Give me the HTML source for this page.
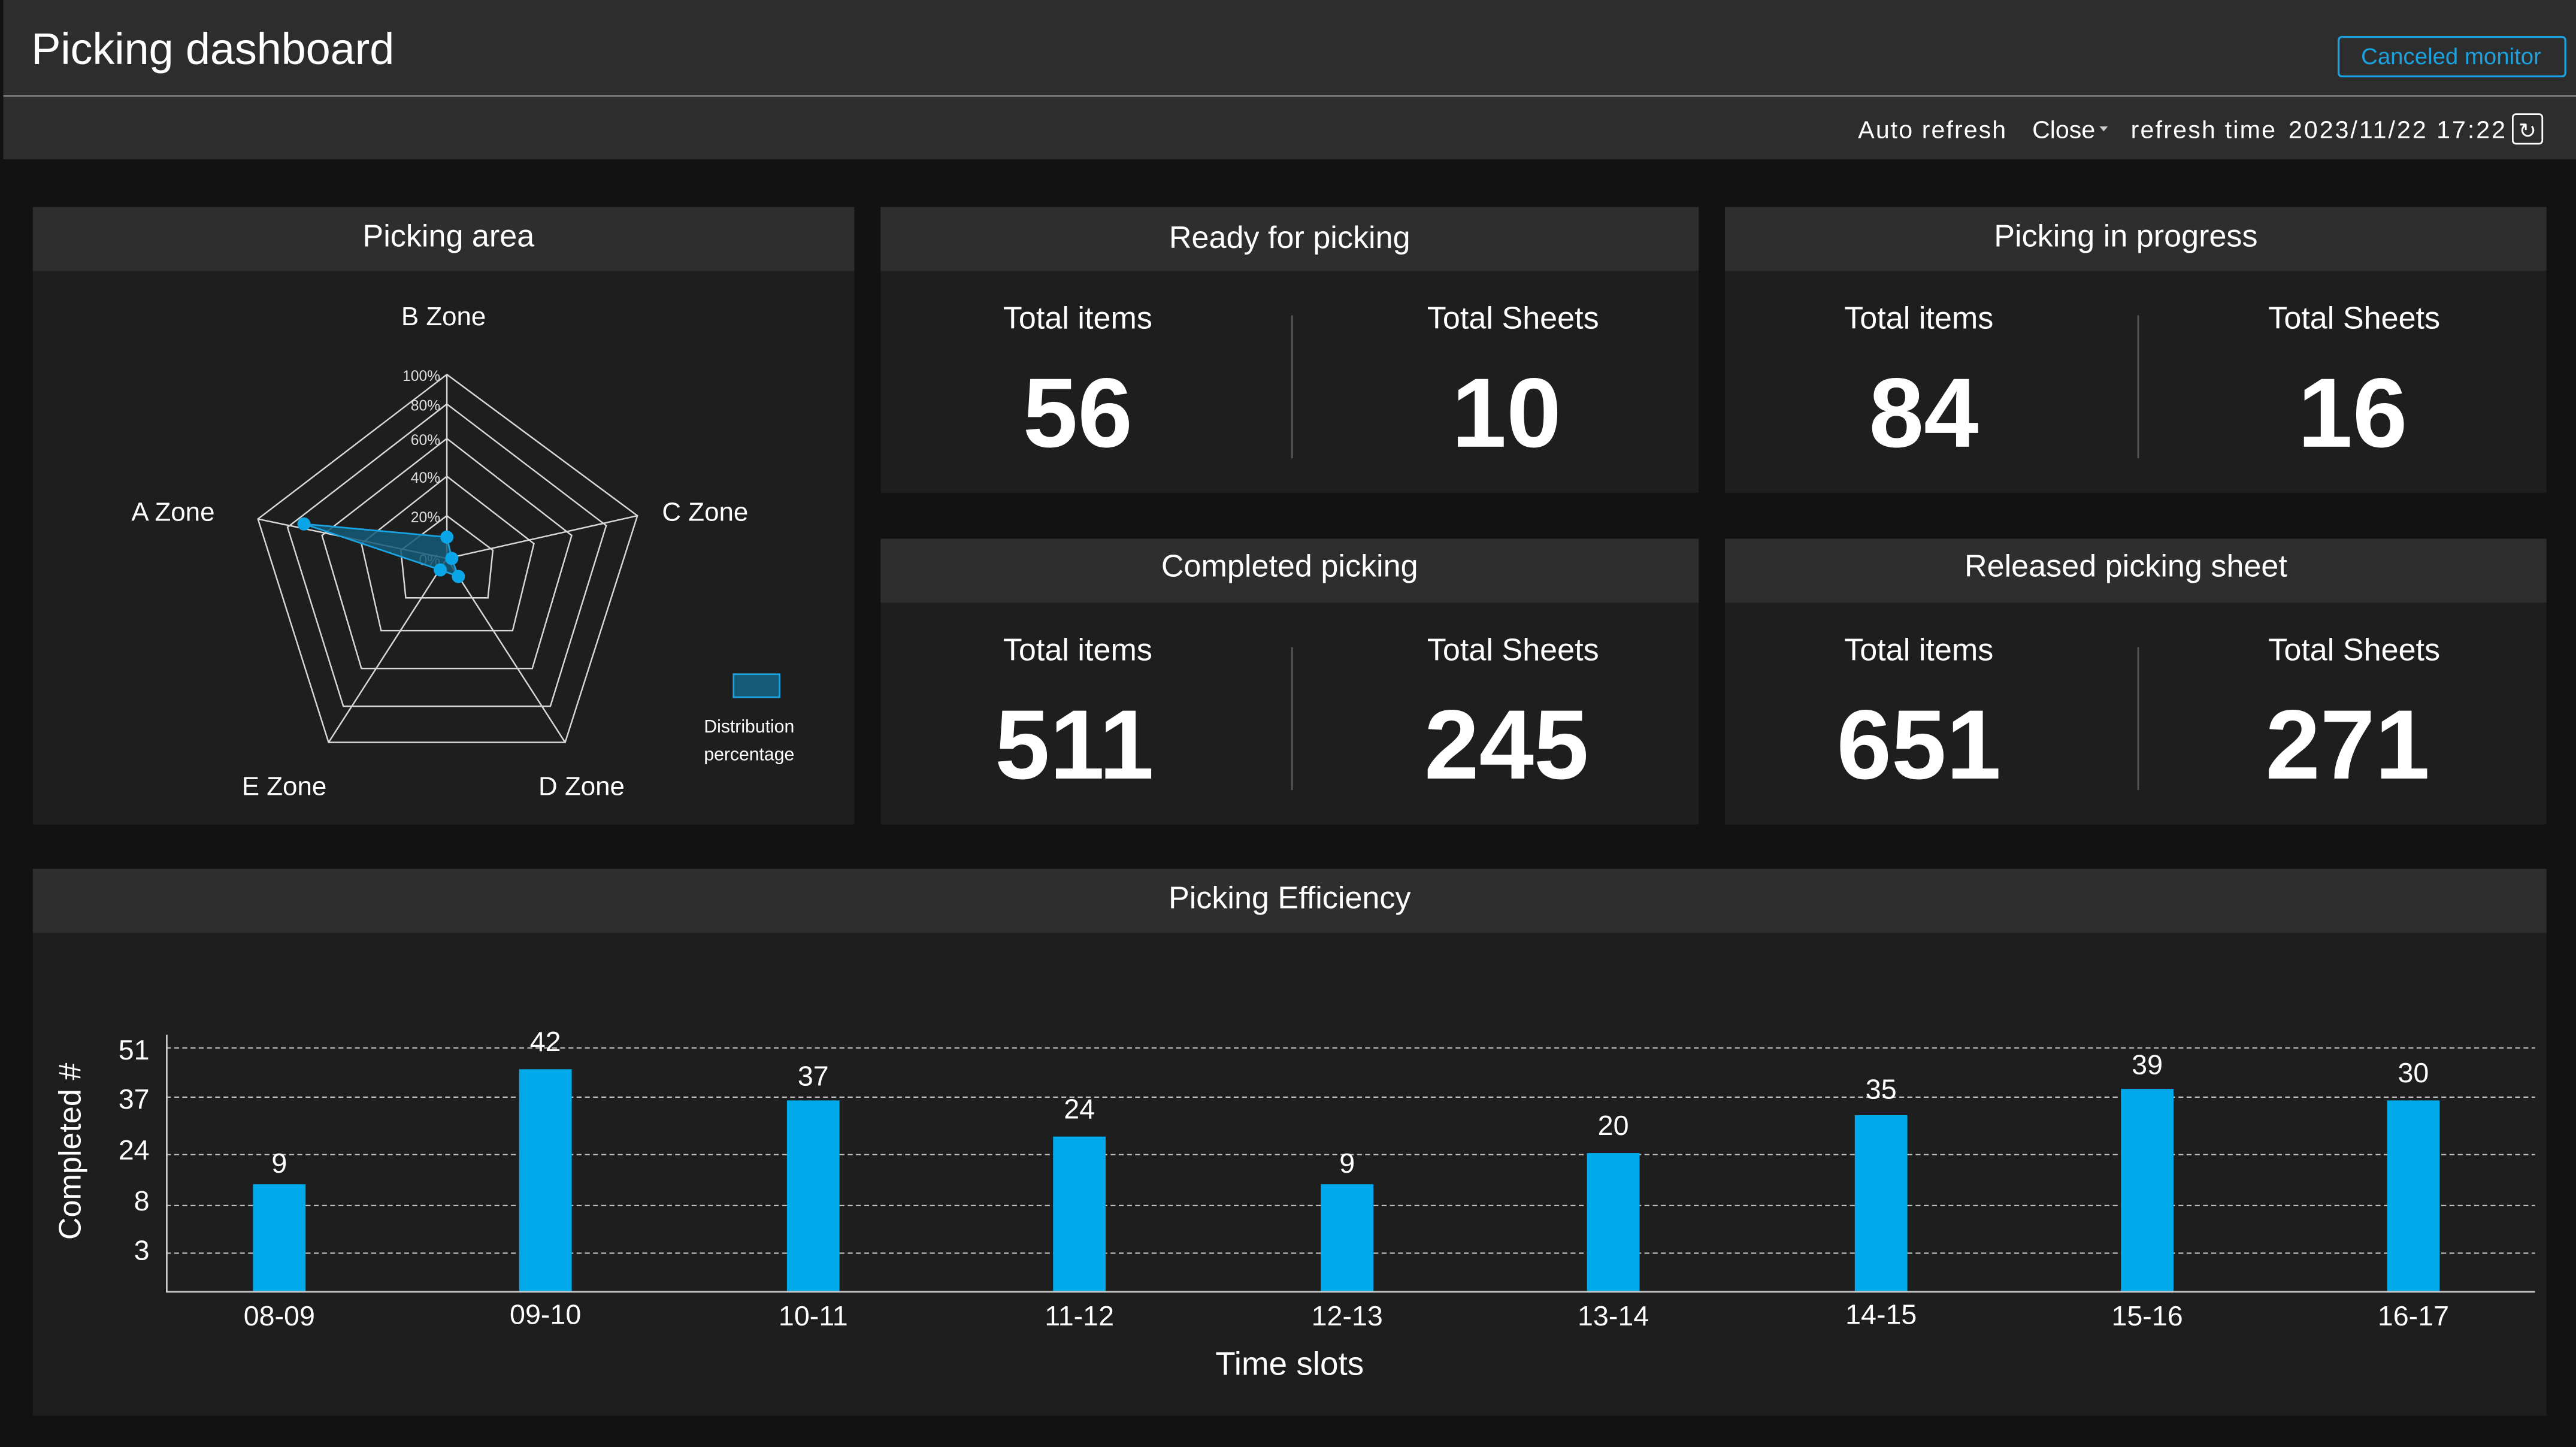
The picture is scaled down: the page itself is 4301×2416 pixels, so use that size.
<!DOCTYPE html>
<html><head><meta charset="utf-8"><style>
html,body{margin:0;padding:0;background:#121212;}
svg{display:block;}
text{font-family:"Liberation Sans",sans-serif;}
</style></head><body>
<svg width="4301" height="2416" viewBox="0 0 1568 881" preserveAspectRatio="none" xmlns="http://www.w3.org/2000/svg">
<rect x="0" y="0" width="1568" height="881" fill="#121212"/>
<rect x="2" y="0" width="1566" height="97" fill="#2d2d2d"/>
<line x1="2" y1="58.5" x2="1568" y2="58.5" stroke="#7a7a7a" stroke-width="1"/>
<text x="19" y="39" font-size="27" fill="#fff" textLength="221">Picking dashboard</text>
<rect x="1423.5" y="22.5" width="138" height="24" rx="2" fill="none" stroke="#1aa3e0" stroke-width="1.2"/>
<text x="1492" y="39" font-size="14" fill="#1aa3e0" text-anchor="middle">Canceled monitor</text>
<text x="1131" y="84" font-size="15" fill="#fff" textLength="90">Auto refresh</text>
<text x="1237" y="84" font-size="15" fill="#fff">Close</text>
<path d="M1278 77 l5 0 l-2.5 3z" fill="#ccc"/>
<text x="1297" y="84" font-size="15" fill="#fff" textLength="88">refresh time</text>
<text x="1393" y="84" font-size="15" fill="#fff" textLength="132">2023/11/22 17:22</text>
<rect x="1529.5" y="69.5" width="18" height="18" rx="2" fill="none" stroke="#fff" stroke-width="1"/>
<text x="1538.5" y="84" font-size="13" fill="#fff" text-anchor="middle">↻</text>

<g>
<rect x="20" y="126" width="500" height="376" fill="#1e1e1e"/>
<rect x="20" y="126" width="500" height="39" fill="#2e2e2e"/>
<text x="273" y="150" font-size="19" fill="#fff" text-anchor="middle">Picking area</text>

<rect x="536" y="126" width="498" height="174" fill="#1e1e1e"/>
<rect x="536" y="126" width="498" height="39" fill="#2e2e2e"/>
<text x="785" y="151" font-size="19" fill="#fff" text-anchor="middle">Ready for picking</text>
<rect x="1050" y="126" width="500" height="174" fill="#1e1e1e"/>
<rect x="1050" y="126" width="500" height="39" fill="#2e2e2e"/>
<text x="1294" y="150" font-size="19" fill="#fff" text-anchor="middle">Picking in progress</text>

<rect x="536" y="328" width="498" height="174" fill="#1e1e1e"/>
<rect x="536" y="328" width="498" height="39" fill="#2e2e2e"/>
<text x="785" y="351" font-size="19" fill="#fff" text-anchor="middle">Completed picking</text>
<rect x="1050" y="328" width="500" height="174" fill="#1e1e1e"/>
<rect x="1050" y="328" width="500" height="39" fill="#2e2e2e"/>
<text x="1294" y="351" font-size="19" fill="#fff" text-anchor="middle">Released picking sheet</text>

<rect x="20" y="529" width="1530" height="333" fill="#1e1e1e"/>
<rect x="20" y="529" width="1530" height="39" fill="#2e2e2e"/>
<text x="785" y="553" font-size="19" fill="#fff" text-anchor="middle">Picking Efficiency</text>
</g>

<g fill="#fff" text-anchor="middle">
<g font-size="19">
<text x="656" y="200">Total items</text><text x="921" y="200">Total Sheets</text>
<text x="1168" y="200">Total items</text><text x="1433" y="200">Total Sheets</text>
<text x="656" y="402">Total items</text><text x="921" y="402">Total Sheets</text>
<text x="1168" y="402">Total items</text><text x="1433" y="402">Total Sheets</text>
</g>
<g font-size="60" font-weight="bold">
<text x="656" y="272">56</text><text x="917" y="272">10</text>
<text x="1171" y="272">84</text><text x="1432" y="272">16</text>
<text x="654" y="474">511</text><text x="917" y="474">245</text>
<text x="1168" y="474">651</text><text x="1429" y="474">271</text>
</g>
</g>
<g stroke="#555" stroke-width="1">
<line x1="786.5" y1="192" x2="786.5" y2="279"/><line x1="1301.5" y1="192" x2="1301.5" y2="279"/>
<line x1="786.5" y1="394" x2="786.5" y2="481"/><line x1="1301.5" y1="394" x2="1301.5" y2="481"/>
</g>

<g fill="none" stroke="#d8d8d8" stroke-width="0.9">
<polygon points="272,228 388,314 344,452 200,452 157,316"/>
<polygon points="272,246 369,320 335,430 209,430 175,321"/>
<polygon points="272,267 348,326 324,407 220,407 196,326"/>
<polygon points="272,290 325,331 312,384 232,384 220,331"/>
<polygon points="272,314 300,335 297,364 247,364 244,335"/>
<line x1="272" y1="340" x2="272" y2="228"/>
<line x1="272" y1="340" x2="388" y2="314"/>
<line x1="272" y1="340" x2="344" y2="452"/>
<line x1="272" y1="340" x2="200" y2="452"/>
<line x1="272" y1="340" x2="157" y2="316"/>
</g>
<g font-size="9" fill="#ddd" text-anchor="end">
<text x="268" y="232">100%</text><text x="268" y="250">80%</text><text x="268" y="271">60%</text>
<text x="268" y="294">40%</text><text x="268" y="318">20%</text><text x="268" y="344">0%</text>
</g>
<polygon points="272,327 275,340 279,351 268,347 185,319" fill="#155a78" fill-opacity="0.85" stroke="#1aa3e0" stroke-width="1"/>
<g fill="#0aa6e8">
<circle cx="272" cy="327" r="4"/><circle cx="275" cy="340" r="4"/><circle cx="279" cy="351" r="4"/>
<circle cx="268" cy="347" r="4"/><circle cx="185" cy="319" r="4"/>
</g>
<g font-size="16" fill="#fff">
<text x="270" y="198" text-anchor="middle">B  Zone</text>
<text x="80" y="317">A  Zone</text>
<text x="403" y="317">C  Zone</text>
<text x="173" y="484" text-anchor="middle">E Zone</text>
<text x="354" y="484" text-anchor="middle">D Zone</text>
</g>
<rect x="446.5" y="410.5" width="28" height="14" fill="#155a78" stroke="#1aa3e0" stroke-width="1"/>
<text x="456" y="446" font-size="11" fill="#fff" text-anchor="middle">Distribution</text>
<text x="456" y="463" font-size="11" fill="#fff" text-anchor="middle">percentage</text>

<g stroke="#bbb" stroke-width="0.8" stroke-dasharray="3,2">
<line x1="101" y1="638" x2="1543" y2="638"/>
<line x1="101" y1="668" x2="1543" y2="668"/>
<line x1="101" y1="703" x2="1543" y2="703"/>
<line x1="101" y1="734" x2="1543" y2="734"/>
<line x1="101" y1="763" x2="1543" y2="763"/>
</g>
<line x1="101" y1="786.5" x2="1543" y2="786.5" stroke="#ccc" stroke-width="1"/>
<line x1="101.5" y1="630" x2="101.5" y2="786" stroke="#ccc" stroke-width="1"/>
<g font-size="17" fill="#fff" text-anchor="end">
<text x="91" y="645">51</text><text x="91" y="675">37</text><text x="91" y="706">24</text>
<text x="91" y="737">8</text><text x="91" y="767">3</text>
</g>
<text transform="translate(49,701) rotate(-90)" font-size="19" fill="#fff" text-anchor="middle">Completed #</text>
<g fill="#00aaeb">
<rect x="154" y="721" width="32" height="65"/>
<rect x="316" y="651" width="32" height="135"/>
<rect x="479" y="670" width="32" height="116"/>
<rect x="641" y="692" width="32" height="94"/>
<rect x="804" y="721" width="32" height="65"/>
<rect x="966" y="702" width="32" height="84"/>
<rect x="1129" y="679" width="32" height="107"/>
<rect x="1291" y="663" width="32" height="123"/>
<rect x="1453" y="670" width="32" height="116"/>
</g>
<g font-size="17" fill="#fff" text-anchor="middle">
<text x="170" y="714">9</text><text x="332" y="640">42</text><text x="495" y="661">37</text>
<text x="657" y="681">24</text><text x="820" y="714">9</text><text x="982" y="691">20</text>
<text x="1145" y="669">35</text><text x="1307" y="654">39</text><text x="1469" y="659">30</text>
</g>
<g font-size="17" fill="#fff" text-anchor="middle">
<text x="170" y="807">08-09</text><text x="332" y="806">09-10</text><text x="495" y="807">10-11</text>
<text x="657" y="807">11-12</text><text x="820" y="807">12-13</text><text x="982" y="807">13-14</text>
<text x="1145" y="806">14-15</text><text x="1307" y="807">15-16</text><text x="1469" y="807">16-17</text>
</g>
<text x="785" y="837" font-size="20" fill="#fff" text-anchor="middle">Time slots</text>
</svg>
</body></html>
